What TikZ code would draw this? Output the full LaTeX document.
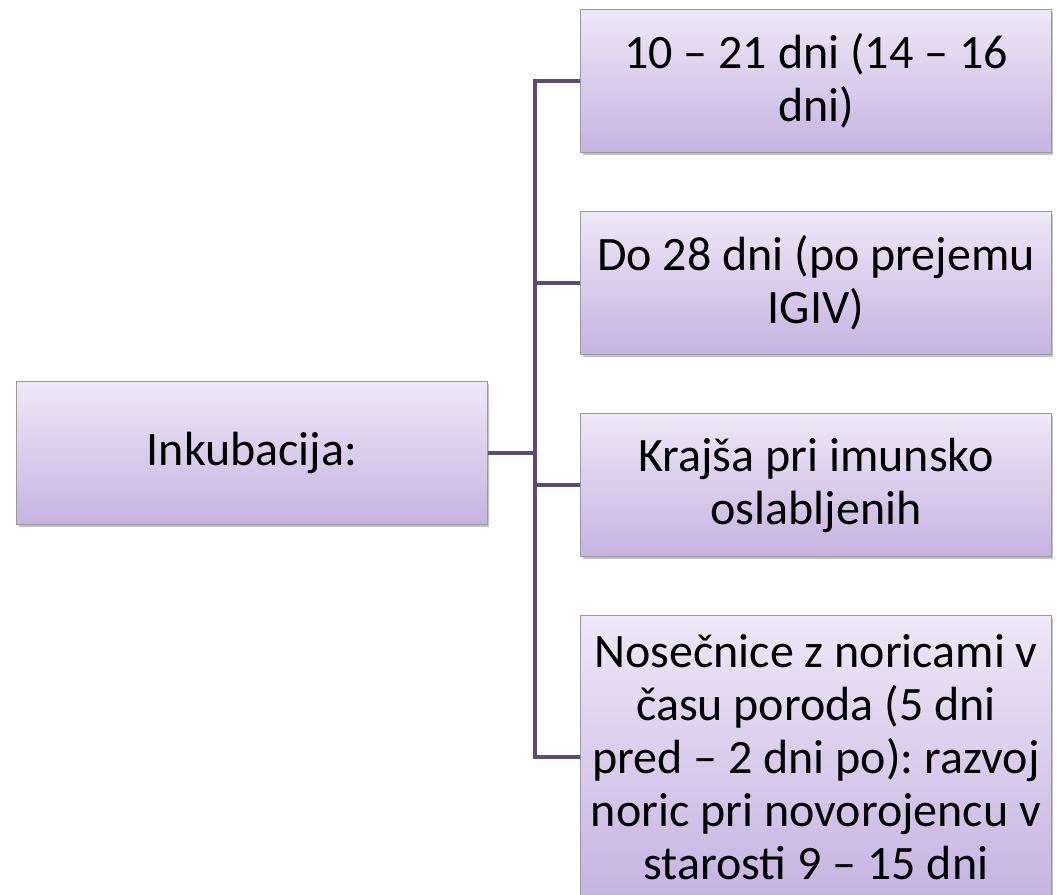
\documentclass[tikz,border=0pt]{standalone}
\usepackage{fontspec}
\setmainfont{Carlito}
\usetikzlibrary{shadows}
\frenchspacing
\definecolor{linepurple}{HTML}{5F497A}
\definecolor{boxtop}{HTML}{EEE8F7}
\definecolor{boxbottom}{HTML}{C6B3E1}
\definecolor{boxline}{HTML}{9A9A9A}
\tikzset{
  box/.style={draw=boxline, line width=0.6pt, top color=boxtop, bottom color=boxbottom,
    minimum width=353pt, minimum height=107pt, align=center, inner sep=2pt,
    font=\fontsize{36}{39.75}\selectfont,
    drop shadow={shadow xshift=1.5pt, shadow yshift=-2pt, opacity=0.4, fill=black!60}},
  link/.style={draw=linepurple, line width=3.4pt}
}
\begin{document}
\begin{tikzpicture}[x=0.75pt,y=-0.75pt]
      \useasboundingbox (0,0) rectangle (1057,895);
      \draw
        (252,453) node[box] (0){Inkubacija:}
        (816,81) node[box] (1){10 – 21 dni (14 – 16\\dni)}
        (816,283) node[box] (2){Do 28 dni (po prejemu\\IGIV)}
        (816,485) node[box] (3){Krajša pri imunsko\\oslabljenih}
        (816,757) node[box, minimum height=213pt] (4){Nosečnice z noricami v\\času poroda (5 dni\\pred – 2 dni po): razvoj\\noric pri novorojencu v\\starosti 9 – 15 dni};
      \coordinate (j) at (535,453);
      \begin{scope}[link]
        \draw (0.east) -- (j);
        \draw (j) |- (1.west);
        \draw (j) |- (2.west);
        \draw (j) |- (3.west);
        \draw (j) |- (4.west);
      \end{scope}
    \end{tikzpicture}
\end{document}
